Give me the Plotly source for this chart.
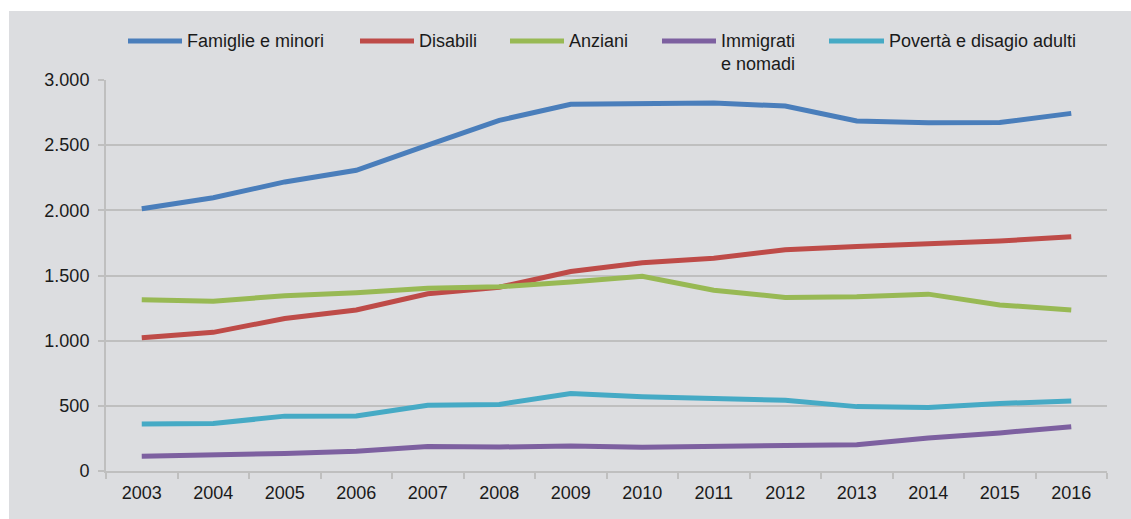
import plotly.graph_objects as go

# data
years = ['2003', '2004', '2005', '2006', '2007', '2008', '2009',
         '2010', '2011', '2012', '2013', '2014', '2015', '2016']

famiglie = [2012, 2097, 2218, 2307, 2500, 2690, 2814, 2818, 2824, 2800, 2686, 2672, 2674, 2744]
disabili = [1023, 1064, 1170, 1235, 1360, 1410, 1530, 1598, 1632, 1698, 1722, 1742, 1764, 1797]
anziani = [1313, 1302, 1345, 1368, 1403, 1414, 1450, 1494, 1387, 1332, 1337, 1357, 1274, 1235]
immigrati = [114, 121, 134, 151, 188, 184, 192, 183, 188, 193, 202, 254, 292, 340]
poverta = [360, 364, 421, 422, 505, 511, 594, 570, 556, 543, 494, 487, 518, 537]

names = ['Famiglie e minori', 'Disabili', 'Anziani', 'Immigrati<br>e nomadi', 'Povertà e disagio adulti']
series = [famiglie, disabili, anziani, immigrati, poverta]
colors = ['#4a7ebb', '#be4b48', '#98b954', '#7d60a0', '#46aac5']

# page / plot area geometry in pixels
W, H = 1131, 519
L, R, T, B = 106, 24, 80, 48
PW, PH = W - L - R, H - T - B


def px_x(x):
    return (x - L) / PW


def px_y(y):
    return (H - B - y) / PH


fig = go.Figure()

for name, vals, col in zip(names, series, colors):
    fig.add_trace(go.Scatter(x=years, y=vals, mode='lines', name=name,
                             line=dict(color=col, width=5), showlegend=False,
                             hoverinfo='skip'))

# legend drawn by hand (long line keys like the original)
legend_pos = [(128, 182), (360, 414), (510, 564), (662, 716), (829, 884)]
shapes = []
annotations = []
for (x0, x1), name, col in zip(legend_pos, names, colors):
    shapes.append(dict(type='line', xref='paper', yref='paper',
                       x0=px_x(x0), x1=px_x(x1), y0=px_y(41), y1=px_y(41),
                       line=dict(color=col, width=5)))
    two = '<br>' in name
    annotations.append(dict(xref='paper', yref='paper', x=px_x(x1 + 3),
                            y=px_y(52 if two else 41), text=name, showarrow=False,
                            xanchor='left', yanchor='middle', align='left',
                            font=dict(size=18, color='#1a1a1a')))

# white margin strips at the top and left of the grey panel
shapes.append(dict(type='rect', xref='paper', yref='paper', layer='above',
                   x0=px_x(0), x1=px_x(9), y0=px_y(H), y1=px_y(0),
                   fillcolor='white', line=dict(width=0)))
shapes.append(dict(type='rect', xref='paper', yref='paper', layer='above',
                   x0=px_x(0), x1=px_x(W), y0=px_y(11), y1=px_y(0),
                   fillcolor='white', line=dict(width=0)))

fig.update_layout(
    width=W, height=H,
    margin=dict(l=L, r=R, t=T, b=B, pad=0),
    paper_bgcolor='#dcdde0',
    plot_bgcolor='#dcdde0',
    separators=',.',
    font=dict(family='Liberation Sans, Arial, sans-serif', size=18, color='#1a1a1a'),
    shapes=shapes,
    annotations=annotations,
    showlegend=False,
    hovermode=False,
)

fig.update_xaxes(type='category', range=[-0.5, 13.5], showgrid=False,
                 showline=True, linecolor='#bfbfbf', linewidth=2,
                 ticks='outside', tickson='boundaries', ticklen=6,
                 tickcolor='#bfbfbf', tickwidth=2, tickfont=dict(size=18),
                 ticklabelstandoff=4)
fig.update_yaxes(range=[0, 3000], dtick=500, tickformat=',d',
                 showgrid=True, gridcolor='#bfbfbf', gridwidth=2,
                 showline=True, linecolor='#bfbfbf', linewidth=2,
                 ticks='outside', ticklen=6, tickcolor='#bfbfbf', tickwidth=2,
                 zeroline=False, tickfont=dict(size=18), ticklabelstandoff=5)

# drop the default page margin so the chart sits at the window's corner
fig.write_html('out.html', config={'displayModeBar': False, 'staticPlot': True},
               post_script="document.body.style.margin='0';document.body.style.overflow='hidden';")
